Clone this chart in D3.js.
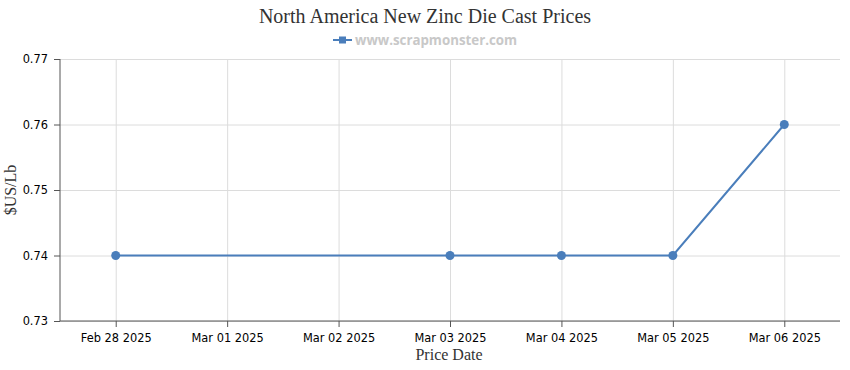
<!doctype html>
<html lang="en">
<head>
<meta charset="UTF-8">
<script src="https://cdn.jsdelivr.net/npm/d3@7"></script>
<style>
  body { margin: 0; background: #fff; }
  .axis text { font: 11.4px "DejaVu Sans", sans-serif; fill: #000; }
  .axis path, .axis line { stroke: #555; }
  .grid line { stroke: #dcdcdc; }
  .grid path { display: none; }
  .title { font: 20px "Liberation Serif", serif; fill: #333; }
  .axisTitle { font: 16px "Liberation Serif", serif; fill: #333; }
  .legendText { font: bold 13.3px "Open Sans", sans-serif; fill: #c8c8c8; }
</style>
</head>
<body>
<svg id="chart"></svg>
<script>
// chart data
let dates = ["2025-02-28", "2025-03-03", "2025-03-04", "2025-03-05", "2025-03-06"];
let prices = [0.74, 0.74, 0.74, 0.74, 0.76];
let yTicks = [0.73, 0.74, 0.75, 0.76, 0.77];
let titleText = "North America New Zinc Die Cast Prices";
let legendLabel = "www.scrapmonster.com";

let width = 850, height = 370;
let margin = {top: 59, right: 10, bottom: 49, left: 60};
let parse = d3.timeParse("%Y-%m-%d");
let data = dates.map(function(d, i) { return {date: parse(d), value: prices[i]}; });

let svg = d3.select("#chart").attr("width", width).attr("height", height);

// half a day padding on each side
let x = d3.scaleTime()
  .domain([d3.timeHour.offset(parse("2025-02-28"), -12), d3.timeHour.offset(parse("2025-03-06"), 12)])
  .range([margin.left, width - margin.right]);
let y = d3.scaleLinear()
  .domain([0.73, 0.77])
  .range([height - margin.bottom, margin.top]);

let dayTicks = d3.timeDay.range(parse("2025-02-28"), d3.timeDay.offset(parse("2025-03-06"), 1));

// gridlines
svg.append("g").attr("class", "grid")
  .attr("transform", "translate(0," + (height - margin.bottom) + ")")
  .call(d3.axisBottom(x).tickValues(dayTicks).tickSize(-(height - margin.top - margin.bottom)).tickFormat(""));
svg.append("g").attr("class", "grid")
  .attr("transform", "translate(" + margin.left + ",0)")
  .call(d3.axisLeft(y).tickValues(yTicks).tickSize(-(width - margin.left - margin.right)).tickFormat(""));

// axes
svg.append("g").attr("class", "axis")
  .attr("transform", "translate(0," + (height - margin.bottom) + ")")
  .call(d3.axisBottom(x).tickValues(dayTicks).tickSize(6).tickPadding(7).tickFormat(d3.timeFormat("%b %d %Y")))
  .call(function(g) { g.select(".domain").attr("d", "M" + margin.left + ",0H" + (width - margin.right)); });
svg.append("g").attr("class", "axis")
  .attr("transform", "translate(" + margin.left + ",0)")
  .call(d3.axisLeft(y).tickValues(yTicks).tickSize(6).tickPadding(6).tickFormat(d3.format(".2f")))
  .call(function(g) { g.select(".domain").attr("d", "M0," + margin.top + "V" + (height - margin.bottom)); });

// line and points
let line = d3.line().x(function(d) { return x(d.date); }).y(function(d) { return y(d.value); });
svg.append("path").datum(data)
  .attr("fill", "none").attr("stroke", "#4a7ebb").attr("stroke-width", 2)
  .attr("d", line);
svg.selectAll(".pt").data(data).enter().append("circle")
  .attr("class", "pt")
  .attr("cx", function(d) { return x(d.date); })
  .attr("cy", function(d) { return y(d.value); })
  .attr("r", 4.5)
  .attr("fill", "#4a7ebb");

// titles
svg.append("text").attr("class", "title")
  .attr("x", width / 2).attr("y", 23).attr("text-anchor", "middle").text(titleText);
svg.append("text").attr("class", "axisTitle")
  .attr("x", 449).attr("y", 360).attr("text-anchor", "middle").text("Price Date");
svg.append("text").attr("class", "axisTitle")
  .attr("transform", "translate(16," + ((margin.top + height - margin.bottom) / 2) + ") rotate(-90)")
  .attr("text-anchor", "middle").text("$US/Lb");

// legend
let lg = svg.append("g").attr("transform", "translate(333,40)");
lg.append("line").attr("x1", 0).attr("x2", 19).attr("stroke", "#4a7ebb").attr("stroke-width", 2);
lg.append("rect").attr("x", 6).attr("y", -3.5).attr("width", 7).attr("height", 7).attr("fill", "#4a7ebb");
lg.append("text").attr("class", "legendText").attr("x", 22).attr("y", 4.5).text(legendLabel);
</script>
</body>
</html>
